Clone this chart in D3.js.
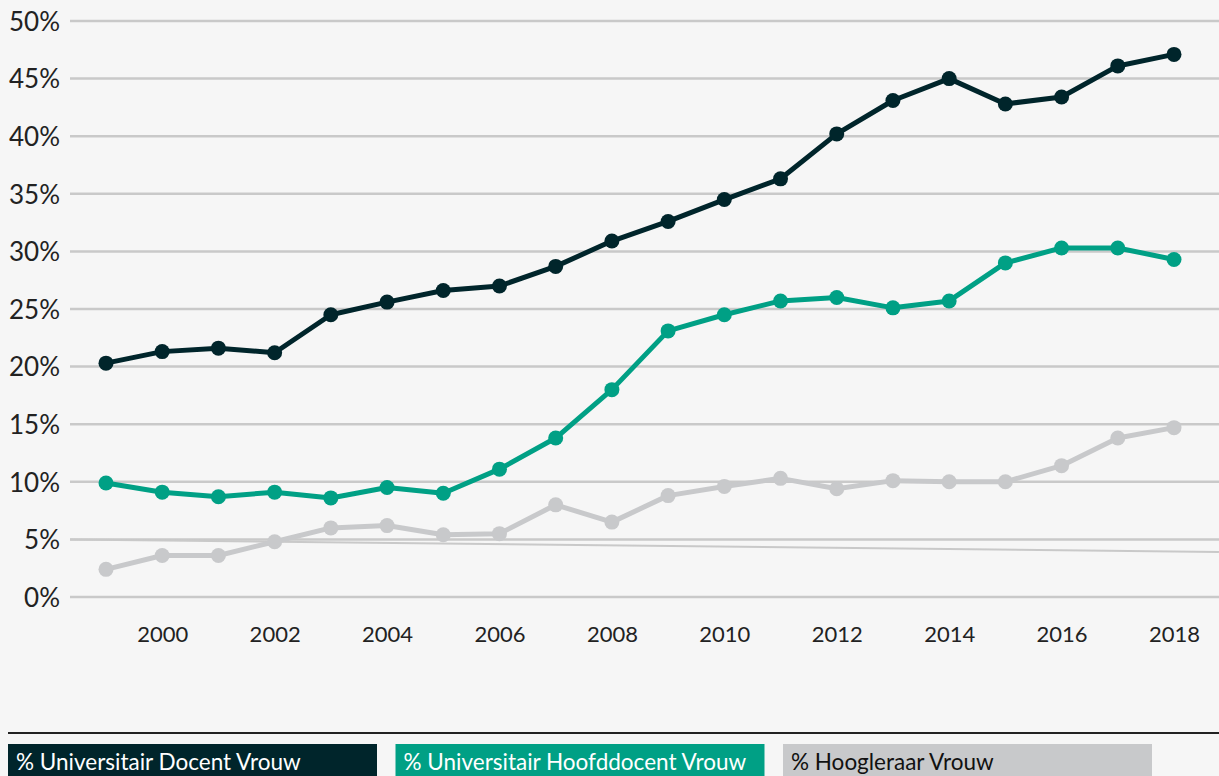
<!DOCTYPE html>
<html>
<head>
<meta charset="utf-8">
<script src="https://cdn.jsdelivr.net/npm/d3@7"></script>
<style>
  html, body { margin: 0; padding: 0; background: #f6f6f6; }
  svg { display: block; font-family: Lato, "Open Sans", sans-serif; }
</style>
</head>
<body>
<svg id="chart" width="1219" height="776"></svg>
<script>
// Years on the horizontal axis
const years = [1999, 2000, 2001, 2002, 2003, 2004, 2005, 2006, 2007, 2008,
               2009, 2010, 2011, 2012, 2013, 2014, 2015, 2016, 2017, 2018];

// Share of women (%) per job grade
const docentVrouw = [20.3, 21.3, 21.6, 21.2, 24.5, 25.6, 26.6, 27.0, 28.7, 30.9,
                     32.6, 34.5, 36.3, 40.2, 43.1, 45.0, 42.8, 43.4, 46.1, 47.1];
const hoofddocentVrouw = [9.9, 9.1, 8.7, 9.1, 8.6, 9.5, 9.0, 11.1, 13.8, 18.0,
                          23.1, 24.5, 25.7, 26.0, 25.1, 25.7, 29.0, 30.3, 30.3, 29.3];
const hoogleraarVrouw = [2.4, 3.6, 3.6, 4.8, 6.0, 6.2, 5.4, 5.5, 8.0, 6.5,
                         8.8, 9.6, 10.3, 9.4, 10.1, 10.0, 10.0, 11.4, 13.8, 14.7];

// Linear trend line across the plot
const trendYears = [1998.36, 2018.8];
const trendValues = [5.0, 3.9];

// Axis ticks
const yTicks = [0, 5, 10, 15, 20, 25, 30, 35, 40, 45, 50];
const xTicks = [2000, 2002, 2004, 2006, 2008, 2010, 2012, 2014, 2016, 2018];

const seriesNames = ["% Universitair Docent Vrouw", "% Universitair Hoofddocent Vrouw", "% Hoogleraar Vrouw"];
const seriesColors = ["#00252b", "#00a085", "#c8c9cb"];
const seriesValues = [docentVrouw, hoofddocentVrouw, hoogleraarVrouw];

const svg = d3.select("#chart");

const x = d3.scaleLinear().domain([1999, 2018]).range([106, 1174]);
const y = d3.scaleLinear().domain([0, 50]).range([597, 21]);
const gridLeft = 70, gridRight = 1219;

// Horizontal gridlines
svg.append("g")
  .selectAll("line")
  .data(yTicks)
  .join("line")
  .attr("x1", gridLeft).attr("x2", gridRight)
  .attr("y1", d => y(d)).attr("y2", d => y(d))
  .attr("stroke", "#c9c9c9")
  .attr("stroke-width", 2.5);

// Y axis labels
const yAxis = d3.axisLeft(y).tickValues(yTicks).tickFormat(d => d + "%").tickSize(0).tickPadding(0);
const gy = svg.append("g").attr("transform", "translate(60,1)").call(yAxis);
gy.select(".domain").remove();
gy.selectAll("text")
  .attr("font-family", "Lato, 'Open Sans', sans-serif")
  .attr("font-size", 26)
  .attr("fill", "#222");

// X axis labels
const xAxis = d3.axisBottom(x).tickValues(xTicks).tickFormat(d3.format("d")).tickSize(0).tickPadding(0);
const gx = svg.append("g").attr("transform", "translate(0,626)").call(xAxis);
gx.select(".domain").remove();
gx.selectAll("text")
  .attr("font-family", "Lato, 'Open Sans', sans-serif")
  .attr("font-size", 22)
  .attr("fill", "#222");

// Trend line
svg.append("path")
  .datum(trendYears.map((yr, i) => [yr, trendValues[i]]))
  .attr("d", d3.line().x(d => x(d[0])).y(d => y(d[1])))
  .attr("fill", "none")
  .attr("stroke", "#c9c9c9")
  .attr("stroke-width", 2);

// Series lines and markers (grey first so the darker series sit on top)
const line = d3.line().x(d => x(d.year)).y(d => y(d.value));
[2, 1, 0].forEach(i => {
  const pts = years.map((yr, j) => ({ year: yr, value: seriesValues[i][j] }));
  const g = svg.append("g");
  g.append("path")
    .datum(pts)
    .attr("d", line)
    .attr("fill", "none")
    .attr("stroke", seriesColors[i])
    .attr("stroke-width", 5)
    .attr("stroke-linejoin", "round");
  g.selectAll("circle")
    .data(pts)
    .join("circle")
    .attr("cx", d => x(d.year))
    .attr("cy", d => y(d.value))
    .attr("r", 7.5)
    .attr("fill", seriesColors[i]);
});

// Legend separator
svg.append("line")
  .attr("x1", 8).attr("x2", 1219)
  .attr("y1", 733).attr("y2", 733)
  .attr("stroke", "#222")
  .attr("stroke-width", 2);

// Legend blocks
const legend = svg.append("g")
  .selectAll("g")
  .data(seriesNames)
  .join("g")
  .attr("transform", (d, i) => `translate(${8 + i * 387.5},744)`);
legend.append("rect")
  .attr("width", 369).attr("height", 40)
  .attr("fill", (d, i) => seriesColors[i]);
legend.append("text")
  .attr("x", 8).attr("y", 26)
  .attr("font-size", 22.5)
  .attr("fill", (d, i) => i === 2 ? "#111" : "#fff")
  .text(d => d);
</script>
</body>
</html>
